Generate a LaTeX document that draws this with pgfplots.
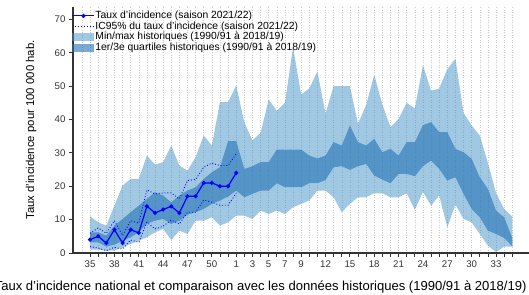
\documentclass[border=0pt]{standalone}
\usepackage{fontspec}
\setmainfont{Liberation Sans}
\usepackage{pgfplots}
\pgfplotsset{compat=1.18}
\usepackage{pgfplotstable}
\usepgfplotslibrary{fillbetween}

\definecolor{bandlight}{RGB}{66,146,200}
\definecolor{banddark}{RGB}{33,113,181}
\definecolor{axisgray}{RGB}{51,51,51}

\pgfplotsset{
  legline/.style={legend image code/.code={\draw[##1, mark repeat=2, mark phase=2] plot coordinates {(0bp,0bp) (11bp,0bp) (22bp,0bp)};}},
  legdot/.style={legend image code/.code={\draw[##1] (0bp,0bp) -- (22bp,0bp);}},
  legbox/.style={legend image code/.code={\fill[##1] (0bp,-4bp) rectangle (22bp,4bp);}},
}

\pgfplotstableread{
i mn q1 q3 mx
0 1.0 3.2 6.2 11.0
1 1.0 3.2 6.2 9.2
2 0.7 1.9 5.2 8.2
3 0.7 2.5 8.2 14.2
4 1.7 3.7 10.2 20.2
5 2.7 4.7 12.2 22.2
6 3.7 6.2 14.2 22.2
7 4.7 8.7 16.2 29.2
8 6.2 9.7 18.2 26.5
9 7.2 10.2 17.2 27.2
10 3.9 8.7 15.2 32.2
11 6.7 9.7 17.2 26.2
12 5.7 11.5 18.7 24.7
13 9.7 12.2 19.7 28.7
14 9.7 13.2 22.2 35.2
15 10.7 14.7 24.2 32.2
16 8.2 15.7 25.7 45.2
17 9.2 16.9 33.5 45.2
18 11.2 18.7 33.5 50.2
19 11.2 16.7 25.2 39.2
20 10.2 17.7 26.0 33.7
21 12.7 18.7 27.2 36.0
22 11.7 18.7 27.2 46.0
23 12.7 20.9 31.0 42.6
24 11.7 19.7 31.0 45.0
25 13.7 19.7 31.0 61.7
26 14.7 19.7 31.0 47.5
27 15.7 20.9 29.2 49.3
28 18.7 20.9 28.3 54.4
29 18.7 21.9 29.2 41.8
30 16.7 25.7 33.2 50.0
31 12.2 26.0 32.2 50.0
32 14.7 24.9 38.2 50.0
33 16.7 26.0 33.2 38.7
34 16.7 26.7 32.2 44.3
35 17.9 23.2 34.2 53.4
36 17.9 22.0 30.2 44.5
37 16.7 20.9 31.2 37.7
38 16.7 23.7 29.2 40.2
39 17.9 23.7 33.2 45.0
40 12.9 23.0 33.2 43.3
41 18.3 26.0 38.3 56.3
42 14.2 27.7 39.2 48.6
43 17.2 25.2 36.2 49.3
44 7.7 21.7 36.2 55.1
45 14.5 22.7 31.2 58.2
46 10.2 17.7 30.2 42.0
47 9.2 13.2 28.2 38.2
48 5.7 10.7 22.7 35.2
49 2.2 6.7 19.2 27.0
50 0.3 5.7 12.7 18.0
51 1.9 4.5 10.7 13.2
52 1.9 2.0 4.5 10.9
}\hist

\pgfplotstableread{
i v lo hi
0 4 1.9 5.9
1 5 1.5 7.5
2 3 0.7 5.9
3 7 1.7 9.7
4 3 1.2 5.2
5 7 3.9 9.7
6 6 3.2 8.9
7 14 9.2 18.9
8 12 7.2 17.7
9 13 8.0 18.0
10 14 9.9 18.0
11 12 8.7 16.2
12 17 12.2 21.7
13 17 12.2 22.0
14 21 15.9 25.7
15 21 15.2 26.9
16 20 14.3 26.2
17 20 14.3 26.2
18 24 17.9 29.7
}\cur

\begin{document}
\begin{tikzpicture}
\begin{axis}[
  scale only axis,
  width=455.5bp, height=246bp,
  xmin=-2.1, xmax=54, ymin=0, ymax=73.7,
  axis x line*=bottom, axis y line*=left,
  axis line style={axisgray, line width=1.1bp},
  xtick={0,...,52},
  xticklabels={35,{},{},38,{},{},41,{},{},44,{},{},47,{},{},50,{},{},1,{},3,{},5,{},7,{},9,{},{},12,{},{},15,{},{},18,{},{},21,{},{},24,{},{},27,{},{},30,{},{},33,{},{}},
  extra x ticks={-1},
  extra x tick labels={},
  extra x tick style={major tick length=0pt},
  ytick={0,10,...,70},
  tick align=outside,
  major tick length=4bp,
  tick style={axisgray, line width=0.8bp},
  xmajorgrids,
  grid style={black!22, line width=0.5bp, dash pattern=on 0.9bp off 1.6bp},
  tick label style={font=\fontsize{9.7}{10}\selectfont, text=axisgray},
  /pgf/number format/assume math mode=true,
  ylabel={Taux d'incidence pour 100 000 hab.},
  ylabel style={at={(axis description cs:-0.092,0.5)}, anchor=center, font=\fontsize{11.4}{12}\selectfont},
  xlabel={Taux d'incidence national et comparaison avec les données historiques (1990/91 à 2018/19)},
  xlabel style={at={(axis description cs:0.412,-0.152)}, anchor=base, font=\fontsize{13.1}{14}\selectfont},
  legend style={at={(axis description cs:-0.004,0.988)}, anchor=north west, draw=none, fill=none,
    font=\fontsize{10.4}{11}\selectfont, row sep=0.4bp, inner sep=0.5bp,
    nodes={text height=7.3bp, text depth=2.3bp, inner sep=0.4bp}},
  legend cell align=left,
]
\addlegendimage{legline, blue, line width=1.2bp, mark=*, mark size=1.4bp}
\addlegendentry{Taux d'incidence (saison 2021/22)}
\addlegendimage{legdot, blue, dotted, line width=0.9bp}
\addlegendentry{IC95\% du taux d'incidence (saison 2021/22)}
\addlegendimage{legbox, fill=bandlight, fill opacity=0.5, draw=none}
\addlegendentry{Min/max historiques (1990/91 à 2018/19)}
\addlegendimage{legbox, fill=banddark, fill opacity=0.6, draw=none}
\addlegendentry{1er/3e quartiles historiques (1990/91 à 2018/19)}

\addplot[name path=mx, draw=none, forget plot] table[x=i, y=mx]{\hist};
\addplot[name path=mn, draw=none, forget plot] table[x=i, y=mn]{\hist};
\addplot[fill=bandlight, fill opacity=0.5, draw=none, forget plot] fill between[of=mx and mn];
\addplot[name path=qt, draw=none, forget plot] table[x=i, y=q3]{\hist};
\addplot[name path=qb, draw=none, forget plot] table[x=i, y=q1]{\hist};
\addplot[fill=banddark, fill opacity=0.6, draw=none, forget plot] fill between[of=qt and qb];

\addplot[blue, dotted, line width=0.9bp, forget plot] table[x=i, y=hi]{\cur};
\addplot[blue, dotted, line width=0.9bp, forget plot] table[x=i, y=lo]{\cur};
\addplot[blue, line width=1.2bp, mark=*, mark size=1.4bp, forget plot] table[x=i, y=v]{\cur};

\coordinate (sw) at (rel axis cs:0,0);
\end{axis}
\pgfresetboundingbox
\path ([shift={(-73bp,-42bp)}]sw) rectangle ([shift={(456bp,253bp)}]sw);
\end{tikzpicture}
\end{document}
